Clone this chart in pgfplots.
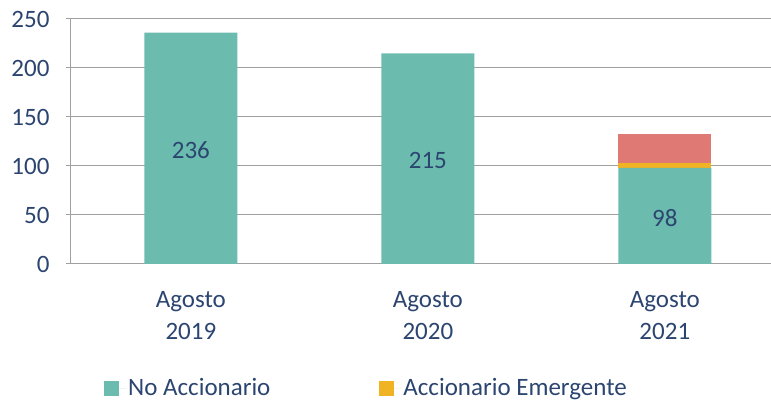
\documentclass[border=0pt]{standalone}
\usepackage{pgfplots}
\pgfplotsset{compat=1.18}
\usepackage{fontspec}
\setmainfont{Carlito}
\definecolor{teal1}{HTML}{6BBCAF}
\definecolor{orng}{HTML}{F0B323}
\definecolor{redd}{HTML}{DE7A73}
\definecolor{txt}{HTML}{2C4570}
\definecolor{gridc}{HTML}{A0A0A0}
\begin{document}
\fontsize{25}{31}\selectfont
\begin{tikzpicture}
\useasboundingbox (0,0) rectangle (771pt,404pt);
\begin{axis}[
  at={(70pt,140pt)}, anchor=south west, scale only axis,
  width=701pt, height=245pt,
  xmin=-0.51, xmax=2.448, ymin=0, ymax=250,
  ybar stacked, bar width=93pt,
  ytick={0,50,...,250},
  xtick={0,1,2},
  xticklabels={{Agosto\\2019},{Agosto\\2020},{Agosto\\2021}},
  x tick style={draw=none},
  extra x ticks={-0.51,0.49,1.49},
  extra x tick labels={},
  extra x tick style={grid=none, tick align=outside, major tick length=8pt, tick style={draw=gridc, line width=1pt}},
  y tick style={draw=gridc, line width=1pt},
  tick align=center, major tick length=8pt,
  ymajorgrids, grid style={draw=gridc, line width=1pt},
  axis lines*=left,
  axis line style={draw=gridc, line width=1pt},
  tick label style={font=\fontsize{25}{32}\selectfont, text=txt},
  /pgf/number format/assume math mode=true,
  xticklabel style={align=center, yshift=-15pt},
  yticklabel style={xshift=-8pt},
  legend style={at={(0.0485,-0.51)}, anchor=west, draw=none, fill=none,
    font=\fontsize{25}{31}\selectfont, text=txt, inner sep=0pt,
    legend columns=2,
    /tikz/every even column/.append style={column sep=107pt}},
  legend image code/.code={\fill[#1] (0pt,-7.5pt) rectangle (15pt,7.5pt); \path (0pt,0pt) -- (22pt,0pt);},
]
\addplot[fill=teal1, draw=none,
  nodes near coords,
  every node near coord/.append style={anchor=center, font=\fontsize{25}{31}\selectfont, text=txt, yshift=-2pt}]
  coordinates {(0,236) (1,215) (2,98)};
\addplot[fill=orng, draw=none] coordinates {(0,0) (1,0) (2,5)};
\addplot[fill=redd, draw=none] coordinates {(0,0) (1,0) (2,30)};
\legend{No Accionario, Accionario Emergente}
\end{axis}
\end{tikzpicture}
\end{document}
